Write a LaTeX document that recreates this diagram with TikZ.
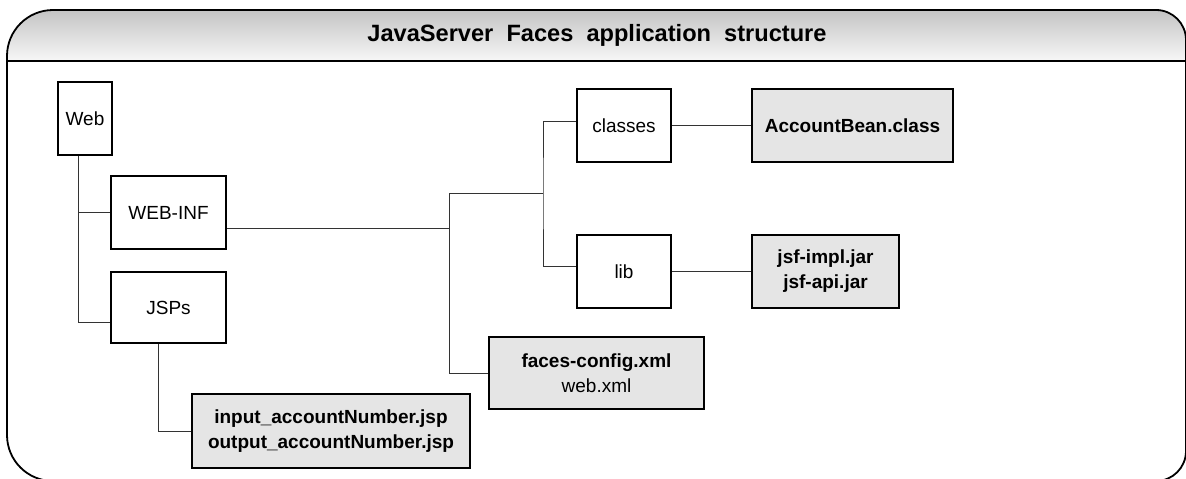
\documentclass[tikz,border=0pt]{standalone}
\usepackage{fontspec}
\setmainfont{Liberation Sans}
\begin{document}
\begin{tikzpicture}[x=1pt,y=1pt,
  box/.style={draw=black,line width=1.5pt,rectangle,inner sep=0pt,align=center,
    font=\fontsize{19}{25}\selectfont},
  filebox/.style={box,fill=black!10,font=\fontsize{19}{25}\selectfont\bfseries},
  conn/.style={draw=black!80,line width=0.9pt},
  frame/.style={draw=black,line width=1.8pt}]
\useasboundingbox (0,0) rectangle (1186,-479);

% header gradient
\shade[top color=black!23,bottom color=black!3]
  (7,-61) -- (7,-56) arc[start angle=180,end angle=90,radius=46pt]
  -- (1156,-10) arc[start angle=90,end angle=0,radius=30pt] -- (1186,-61) -- cycle;
% frame
\draw[frame] (7,-435) -- (7,-56) arc[start angle=180,end angle=90,radius=46pt]
  -- (1156,-10) arc[start angle=90,end angle=0,radius=30pt]
  -- (1186,-451) arc[start angle=0,end angle=-90,radius=30pt]
  -- (53,-481) arc[start angle=-90,end angle=-180,radius=46pt] -- cycle;
\coordinate (hl) at (7,-61);
\coordinate (hr) at (1186,-61);
\draw[frame] (hl) -- (hr);
\node[font=\fontsize{23.6}{28}\selectfont\bfseries] (title) at (597,-35)
  {JavaServer\ \ Faces\ \ application\ \ structure};

% nodes
\node[box,minimum width=54pt,minimum height=73pt] (web) at (85,-118.5) {Web};
\node[box,minimum width=115pt,minimum height=73pt] (webinf) at (168.5,-212.5) {WEB-INF};
\node[box,minimum width=115pt,minimum height=71pt] (jsps) at (168.5,-307.5) {JSPs};
\node[filebox,minimum width=278pt,minimum height=74pt] (input) at (331,-431)
  {input\_accountNumber.jsp\\output\_accountNumber.jsp};
\node[box,minimum width=94pt,minimum height=73pt] (classes) at (624,-125.5) {classes};
\node[box,minimum width=94pt,minimum height=73pt] (lib) at (624,-271.5) {lib};
\node[filebox,minimum width=201pt,minimum height=73pt] (bean) at (852.5,-125.5) {AccountBean.class};
\node[filebox,minimum width=147pt,minimum height=73pt] (jsf) at (825.5,-271.5) {jsf-impl.jar\\jsf-api.jar};
\node[filebox,minimum width=215pt,minimum height=72pt] (faces) at (596.5,-373)
  {faces-config.xml\\\mdseries web.xml};

% connectors
\coordinate (t) at (78,0);
\coordinate (b1) at (449,-193);
\coordinate (b2) at (543,-193);
\draw[conn] (web.south -| t) |- (webinf.west);
\draw[conn] (web.south -| t) |- ([yshift=-14.5pt]jsps.west);
\draw[conn] ([xshift=-10.5pt]jsps.south) |- (input.west);
\draw[conn] ([yshift=-15.5pt]webinf.east) -- ([yshift=-15.5pt]webinf.east -| b1);
\draw[conn] (b2) -- (b1) |- (faces.west);
\draw[conn] ([yshift=4.5pt]classes.west) -| (b2) |- ([yshift=5.5pt]lib.west);
\draw[conn] (classes.east) -- (bean.west);
\draw[conn] (lib.east) -- (jsf.west);
\end{tikzpicture}
\end{document}
